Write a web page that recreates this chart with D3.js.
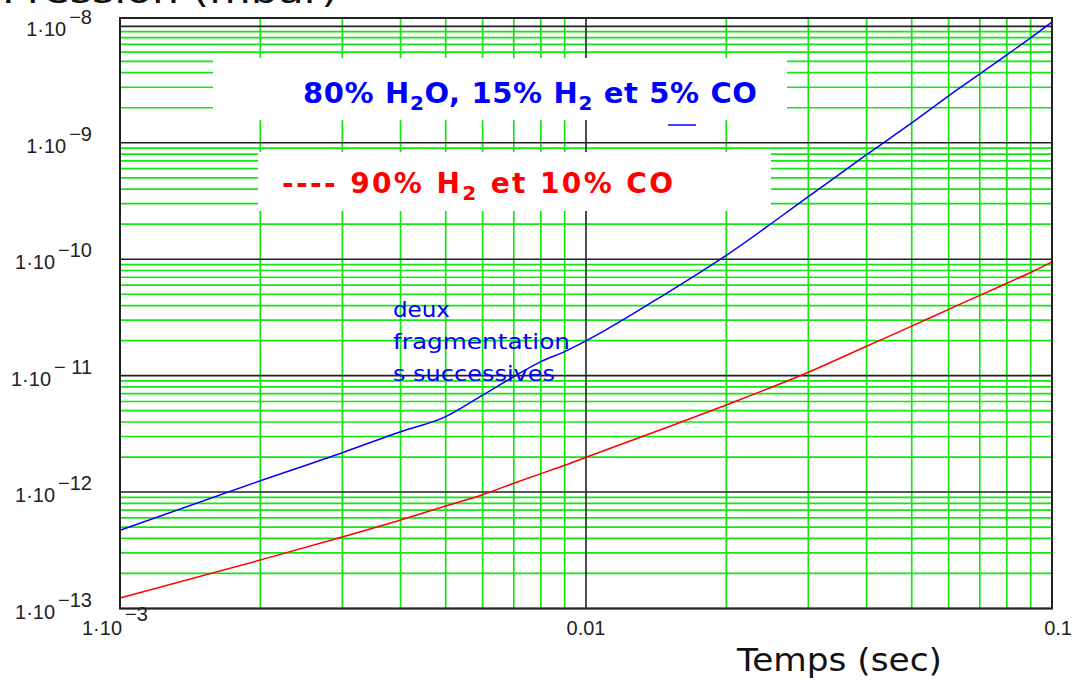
<!DOCTYPE html>
<html lang="fr">
<head>
    <meta charset="UTF-8">
    <title>Pression en fonction du temps</title>
    <script src="https://cdnjs.cloudflare.com/ajax/libs/d3/7.8.5/d3.min.js"></script>
    <style>
        body {
            margin: 0;
            background: white;
        }
        svg {
            display: block;
        }
        .tick-label {
            font-family: "Liberation Sans", Arial, sans-serif;
            font-size: 20px;
            fill: #222;
        }
        .comic {
            font-family: "Comic Sans MS", "DejaVu Sans", sans-serif;
        }
    </style>
</head>
<body>
    <svg id="chart" width="1072" height="682"></svg>

    <script>
        // Time values (sec)
        const tSec = [0.001, 0.002, 0.003, 0.004, 0.005, 0.006, 0.007, 0.008, 0.009,
                      0.01, 0.015, 0.02, 0.03, 0.04, 0.05, 0.06, 0.07, 0.08, 0.09, 0.1];

        // 80% H2O, 15% H2 et 5% CO (blue)
        const pBlue = [4.7e-13, 1.25e-12, 2.18e-12, 3.3e-12, 4.45e-12, 6.8e-12, 9.8e-12, 1.32e-11, 1.61e-11,
                       1.99e-11, 5.2e-11, 1.08e-10, 3.45e-10, 7.9e-10, 1.48e-9, 2.53e-9, 3.9e-9, 5.7e-9, 7.96e-9, 1.09e-8];

        // 90% H2 et 10% CO (red)
        const pRed = [1.23e-13, 2.61e-13, 4.11e-13, 5.75e-13, 7.6e-13, 9.5e-13, 1.19e-12, 1.44e-12, 1.7e-12,
                      1.99e-12, 3.62e-12, 5.6e-12, 1.07e-11, 1.79e-11, 2.66e-11, 3.71e-11, 4.89e-11, 6.22e-11, 7.69e-11, 9.5e-11];

        // Major ticks and their labels
        const xMajor = [0.001, 0.01, 0.1];
        const xLabels = [["1·10", "−3"], ["0.01", ""], ["0.1", ""]];
        const yMajor = [1e-13, 1e-12, 1e-11, 1e-10, 1e-9, 1e-8];
        const yLabels = [["1·10", "−13"], ["1·10", "−12"], ["1·10", "− 11"], ["1·10", "−10"], ["1·10", "−9"], ["1·10", "−8"]];

        const svg = d3.select("#chart");

        // Plot area
        const plotLeft = 120, plotRight = 1052, plotTop = 18, plotBottom = 608.5;

        const x = d3.scaleLog().domain([0.001, 0.1]).range([plotLeft, plotRight]);
        const y = d3.scaleLog().domain([1e-13, 1.18e-8]).range([plotBottom, plotTop]);

        // Minor grid values (2..9 in each decade)
        const xMinor = [];
        [0.001, 0.01].forEach(d => { for (let k = 2; k <= 9; k++) xMinor.push(d * k); });
        const yMinor = [];
        [1e-13, 1e-12, 1e-11, 1e-10, 1e-9].forEach(d => { for (let k = 2; k <= 9; k++) yMinor.push(d * k); });

        const green = "#14e614";
        const grid = svg.append("g");

        grid.selectAll("line.xminor")
            .data(xMinor)
            .enter().append("line")
            .attr("x1", d => x(d)).attr("x2", d => x(d))
            .attr("y1", plotTop).attr("y2", plotBottom)
            .attr("stroke", green).attr("stroke-width", 1.7);

        grid.selectAll("line.yminor")
            .data(yMinor)
            .enter().append("line")
            .attr("x1", plotLeft).attr("x2", plotRight)
            .attr("y1", d => y(d)).attr("y2", d => y(d))
            .attr("stroke", green).attr("stroke-width", 1.7);

        // Major grid lines (black)
        grid.selectAll("line.ymajor")
            .data(yMajor)
            .enter().append("line")
            .attr("x1", plotLeft).attr("x2", plotRight)
            .attr("y1", d => y(d)).attr("y2", d => y(d))
            .attr("stroke", "#222").attr("stroke-width", 1.6);

        grid.append("line")
            .attr("x1", x(0.01)).attr("x2", x(0.01))
            .attr("y1", plotTop).attr("y2", plotBottom)
            .attr("stroke", "#222").attr("stroke-width", 1.6);

        // White legend boxes sit on top of the grid
        svg.append("rect").attr("x", 213).attr("y", 58).attr("width", 574).attr("height", 62).attr("fill", "white");
        svg.append("rect").attr("x", 258).attr("y", 152).attr("width", 513).attr("height", 59).attr("fill", "white");

        // Curves
        const line = d3.line()
            .curve(d3.curveMonotoneX)
            .x(d => x(d[0]))
            .y(d => y(d[1]));

        svg.append("path")
            .datum(tSec.map((t, i) => [t, pBlue[i]]))
            .attr("d", line)
            .attr("fill", "none")
            .attr("stroke", "#0000ff")
            .attr("stroke-width", 1.5);

        svg.append("path")
            .datum(tSec.map((t, i) => [t, pRed[i]]))
            .attr("d", line)
            .attr("fill", "none")
            .attr("stroke", "#ff0000")
            .attr("stroke-width", 1.5);

        // Frame
        svg.append("rect")
            .attr("x", plotLeft).attr("y", plotTop)
            .attr("width", plotRight - plotLeft).attr("height", plotBottom - plotTop)
            .attr("fill", "none")
            .attr("stroke", "#222")
            .attr("stroke-width", 2);

        // Y tick labels
        yMajor.forEach((v, i) => {
            const t = svg.append("text")
                .attr("class", "tick-label")
                .attr("x", 92)
                .attr("y", y(v) + 10)
                .attr("text-anchor", "end");
            t.append("tspan").text(yLabels[i][0]);
            t.append("tspan").attr("dx", 3).attr("dy", -12).text(yLabels[i][1]);
        });

        // X tick labels
        xMajor.forEach((v, i) => {
            const t = svg.append("text")
                .attr("class", "tick-label")
                .attr("y", 635);
            if (i === 0) {
                t.attr("x", 82);
                t.append("tspan").text(xLabels[i][0]);
                t.append("tspan").attr("dx", 3).attr("dy", -14).text(xLabels[i][1]);
            } else if (i === xMajor.length - 1) {
                t.attr("x", 1072).attr("text-anchor", "end").text(xLabels[i][0]);
            } else {
                t.attr("x", x(v)).attr("text-anchor", "middle").text(xLabels[i][0]);
            }
        });

        // Axis titles (the y title is cut by the top edge, as in the original)
        svg.append("text")
            .attr("class", "comic")
            .attr("x", 2).attr("y", 3)
            .attr("font-size", 33)
            .attr("textLength", 336)
            .attr("lengthAdjust", "spacingAndGlyphs")
            .attr("fill", "#111")
            .text("Pression (mbar)");

        svg.append("text")
            .attr("class", "comic")
            .attr("x", 737).attr("y", 671)
            .attr("font-size", 32)
            .attr("textLength", 205)
            .attr("lengthAdjust", "spacingAndGlyphs")
            .attr("fill", "#111")
            .text("Temps (sec)");

        // Legend texts
        const blueLegend = svg.append("text")
            .attr("class", "comic")
            .attr("x", 303).attr("y", 103)
            .attr("font-size", 29)
            .attr("font-weight", "bold")
            .attr("fill", "#0000ff")
            .attr("textLength", 454);
        blueLegend.append("tspan").text("80% H");
        blueLegend.append("tspan").attr("font-size", 20).attr("dy", 7).text("2");
        blueLegend.append("tspan").attr("dy", -7).text("O, 15% H");
        blueLegend.append("tspan").attr("font-size", 20).attr("dy", 7).text("2");
        blueLegend.append("tspan").attr("dy", -7).text(" et 5% CO");

        svg.append("line")
            .attr("x1", 668).attr("x2", 696)
            .attr("y1", 125).attr("y2", 125)
            .attr("stroke", "#0000ff").attr("stroke-width", 1.5);

        const redLegend = svg.append("text")
            .attr("class", "comic")
            .attr("x", 282).attr("y", 193)
            .attr("font-size", 28)
            .attr("font-weight", "bold")
            .attr("fill", "#ff0000")
            .attr("textLength", 391);
        redLegend.append("tspan").text("---- 90% H");
        redLegend.append("tspan").attr("font-size", 20).attr("dy", 7).text("2");
        redLegend.append("tspan").attr("dy", -7).text(" et 10% CO");

        // Annotation
        const noteLines = ["deux", "fragmentation", "s successives"];
        const noteWidths = [57, 177, 162];
        svg.selectAll("text.note")
            .data(noteLines)
            .enter().append("text")
            .attr("class", "comic note")
            .attr("x", 393)
            .attr("y", (d, i) => 317 + i * 32)
            .attr("font-size", 21)
            .attr("fill", "#0000ff")
            .attr("textLength", (d, i) => noteWidths[i])
            .attr("lengthAdjust", "spacingAndGlyphs")
            .text(d => d);
    </script>
</body>
</html>
